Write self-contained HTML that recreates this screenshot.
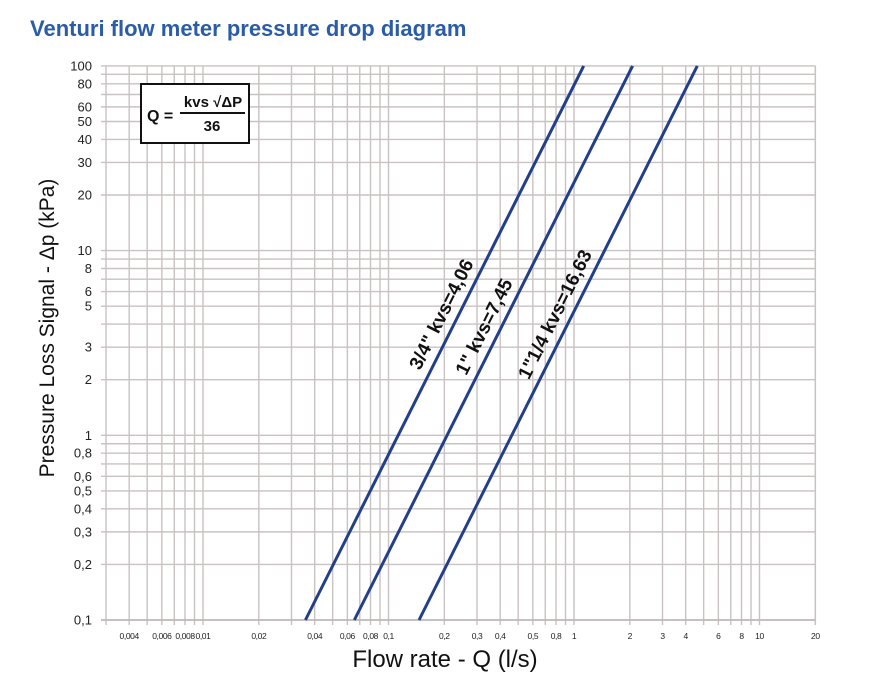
<!DOCTYPE html>
<html><head><meta charset="utf-8"><style>
body{margin:0;background:#fff;}
svg{display:block;font-family:"Liberation Sans",sans-serif;}
</style></head><body>
<svg id="chart" width="873" height="693" viewBox="0 0 873 693" xmlns="http://www.w3.org/2000/svg">
<text x="30" y="36" font-size="22" font-weight="bold" fill="#2b5ca8">Venturi flow meter pressure drop diagram</text>
<g id="grid"></g>
<g id="series"></g>
<g>
<rect x="141" y="84" width="108" height="59" fill="#fff" stroke="#111" stroke-width="2"/>
<text x="147" y="121" font-size="16" font-weight="bold" fill="#111">Q =</text>
<text x="213" y="107" font-size="15" font-weight="bold" fill="#111" text-anchor="middle">kvs √ΔP</text>
<line x1="180" y1="113" x2="245" y2="113" stroke="#111" stroke-width="2"/>
<text x="212" y="131" font-size="15" font-weight="bold" fill="#111" text-anchor="middle">36</text>
</g>
<text transform="translate(54,328) rotate(-90)" text-anchor="middle" font-size="21" fill="#111">Pressure Loss Signal - Δp (kPa)</text>
<text x="445" y="667" text-anchor="middle" font-size="24" fill="#111">Flow rate - Q (l/s)</text>
</svg>
<script>
const seriesNames = ['3/4" kvs=4,06', '1" kvs=7,45', '1"1/4 kvs=16,63'];
const kvsValues = [4.06, 7.45, 16.63];
const dpRange = [0.1, 100];
const yTickValues = [100,80,60,50,40,30,20,10,8,6,5,3,2,1,0.8,0.6,0.5,0.4,0.3,0.2,0.1];
const yTickLabels = ['100','80','60','50','40','30','20','10','8','6','5','3','2','1','0,8','0,6','0,5','0,4','0,3','0,2','0,1'];
const xTickValues = [0.004,0.006,0.008,0.01,0.02,0.04,0.06,0.08,0.1,0.2,0.3,0.4,0.6,0.8,1,2,3,4,6,8,10,20];
const xTickLabels = ['0,004','0,006','0,008','0,01','0,02','0,04','0,06','0,08','0,1','0,2','0,3','0,4','0,5','0,8','1','2','3','4','6','8','10','20'];

const NS='http://www.w3.org/2000/svg';
const X0=203, XD=185.5;
const Y0=620, YD=184.7;
function xs(q){return X0+XD*Math.log10(q/0.01);}
function ys(p){return Y0-YD*Math.log10(p/0.1);}
function mk(tag,attrs,parent){const e=document.createElementNS(NS,tag);for(const k in attrs)e.setAttribute(k,attrs[k]);parent.appendChild(e);return e;}
const grid=document.getElementById('grid');
const gc='#c9c2c2';
for(let d=0.1;d<100;d*=10){for(let m=1;m<10;m++){const v=d*m;const y=ys(v);
 const l=mk('line',{x1:101,x2:xs(20),y1:y,y2:y,stroke:gc,'stroke-width':1.4},grid);
 
 }}
const topLine=mk('line',{x1:101,x2:xs(20),y1:ys(100),y2:ys(100),stroke:gc,'stroke-width':1.4},grid);


for(let d=0.001;d<20;d*=10){for(let m=1;m<10;m++){const v=d*m;if(v<0.0029||v>20.01)continue;const x=xs(v);
 const l=mk('line',{x1:x,x2:x,y1:ys(100),y2:Y0+5,stroke:gc,'stroke-width':1.4},grid);
 
 }}
const rightLine=mk('line',{x1:xs(20),x2:xs(20),y1:ys(100),y2:Y0+5,stroke:gc,'stroke-width':1.4},grid);


const ax=mk('line',{x1:101,x2:xs(20),y1:Y0,y2:Y0,stroke:'#bdb5b5','stroke-width':1.6},grid);


yTickValues.forEach((v,i)=>{const t=mk('text',{x:92,y:ys(v)+4.5,'text-anchor':'end','font-size':13,fill:'#222'},grid);t.textContent=yTickLabels[i];
 
 });
xTickValues.forEach((v,i)=>{const t=mk('text',{x:xs(v),y:Y0+19,'text-anchor':'middle','font-size':8.5,'letter-spacing':'-0.4',fill:'#222'},grid);t.textContent=xTickLabels[i];
 
 });
const sg=document.getElementById('series');
const labelDp=[4.2,3.6,4.2];
kvsValues.forEach((k,i)=>{
 const q1=k*Math.sqrt(dpRange[0])/36, q2=k*Math.sqrt(dpRange[1])/36;
 const x1=xs(q1),y1=ys(dpRange[0]),x2=xs(q2),y2=ys(dpRange[1]);
 const l=mk('line',{x1:x1,y1:y1,x2:x2,y2:y2,stroke:'#233f8c','stroke-width':3},sg);
 
 
 const ang=Math.atan2(y2-y1,x2-x1)*180/Math.PI;
 const p=labelDp[i];const lx=xs(k*Math.sqrt(p)/36)-9, ly=ys(p)-3;
 const t=mk('text',{transform:`translate(${lx},${ly}) rotate(${ang})`,'text-anchor':'middle','font-size':19,'font-weight':'bold',fill:'#111'},sg);
 t.textContent=seriesNames[i];
 
 
});
</script>
</body></html>
